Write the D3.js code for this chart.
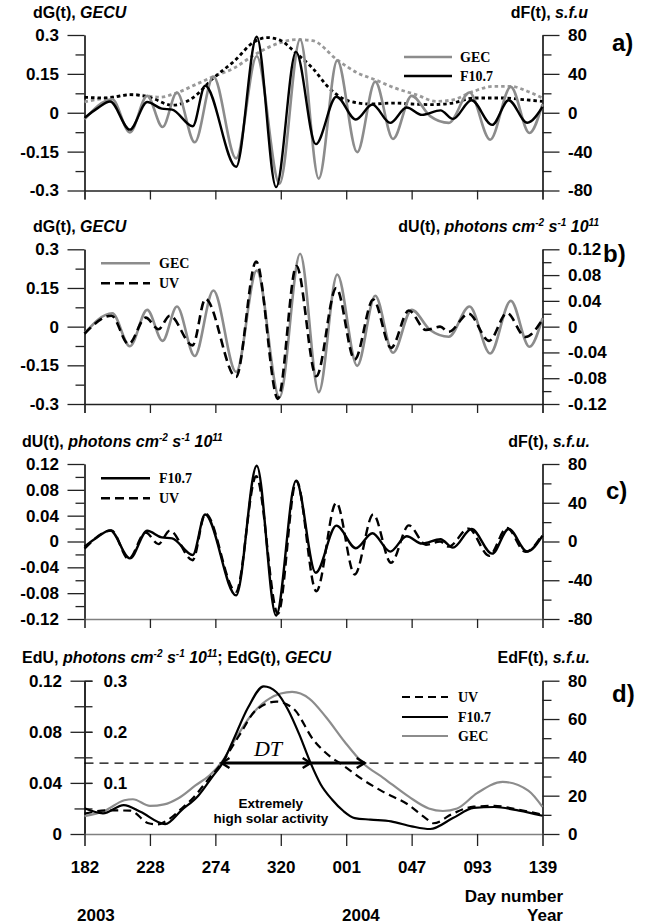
<!DOCTYPE html>
<html>
<head>
<meta charset="utf-8">
<script src="https://cdn.jsdelivr.net/npm/d3@7"></script>
<style>
  body { margin: 0; background: #fff; }
  svg { display: block; font-family: "Liberation Sans", Arial, sans-serif; }
  .axis path, .axis line { stroke: #222; stroke-width: 1.3; }
  .axis text { font: bold 17px "Liberation Sans", Arial, sans-serif; fill: #000; }
  .axis.soft path { stroke: #808080; }
  .title { font: bold 16px "Liberation Sans", Arial, sans-serif; fill: #000; }
  .leg { font: bold 14px "Liberation Serif", "Times New Roman", serif; fill: #000; }
  .tag { font: bold 24px "Liberation Sans", Arial, sans-serif; fill: #000; }
</style>
</head>
<body>
<div id="chart"></div>
<script>
// day index: 0 = day 182 of 2003, 184 = day 001 of 2004
const DAY_TICKS = [0, 46, 92, 138, 184, 230, 276, 322];
const DAY_LABELS = ['182', '228', '274', '320', '001', '047', '093', '139'];

// dG(t), GECU
const GEC_DAY = [0, 19.5, 31.9, 44.1, 54.9, 65, 77.5, 90.6, 106.6, 121.1, 137.1, 151.6, 164.7, 177.7, 191.7, 204.4, 216.9, 230, 243, 256.1, 270.7, 285.2, 299.7, 312.8, 322];
const GEC_VAL = [-0.026, 0.052, -0.076, 0.065, -0.055, 0.078, -0.114, 0.14, -0.176, 0.218, -0.274, 0.283, -0.254, 0.202, -0.152, 0.12, -0.101, 0.065, -0.013, -0.039, 0.078, -0.104, 0.1, -0.078, 0.033];

// dF(t), s.f.u.
const F107_DAY = [0, 9.5, 18, 31.9, 44.1, 54.3, 61.6, 76.1, 84.8, 106.6, 121.1, 134.7, 148.7, 162.6, 177.1, 190.8, 202.4, 214.9, 226.5, 237.3, 250.3, 259, 272.1, 286.6, 298.2, 311.3, 322];
const F107_VAL = [-5.3, 5, 11.5, -17.4, 11.1, 4.2, 3.2, -13.9, 27.8, -55.6, 78.2, -76.5, 62.6, -32.3, 16.4, -6.9, 8.5, -10.4, 5.4, -2.2, 2.4, -6.3, 12.9, -12.5, 12.9, -10.3, 6];

// dU(t), photons cm-2 s-1 10^11
const UV_DAY = [0, 19, 31, 43, 52, 60, 76, 85, 106.5, 120.7, 136, 149, 163, 177, 190, 203, 215.5, 228, 240, 250, 256, 270, 284.5, 297, 310, 322];
const UV_VAL = [-0.011, 0.017, -0.027, 0.014, -0.004, 0.017, -0.029, 0.043, -0.078, 0.101, -0.112, 0.094, -0.077, 0.06, -0.051, 0.042, -0.033, 0.025, -0.005, 0.0, -0.008, 0.02, -0.022, 0.021, -0.016, 0.011];

// envelopes shown dotted in panel a
const F_ENV_DAY = [0, 15, 32.5, 47, 61.6, 76, 90.6, 105, 119.6, 128.4, 137, 148.7, 160.3, 172, 186.4, 201, 218.4, 230, 244.5, 259, 273.6, 294, 308.4, 322];
const F_ENV_VAL = [15.9, 15.2, 18.6, 15.2, 7.7, 15.2, 35.7, 52.8, 73.3, 77.4, 75, 61.4, 46, 25.4, 11.8, 9, 10, 9, 8.4, 10, 15.2, 15.2, 13.5, 11.8];
const G_ENV_DAY = [0, 15, 35.4, 52.9, 64.5, 79, 90.6, 105, 119.6, 137, 148.7, 160.3, 177.7, 192.2, 204, 218.4, 233, 247.4, 259, 273.6, 288, 299.7, 311.3, 322];
const G_ENV_VAL = [0.042, 0.057, 0.07, 0.06, 0.076, 0.111, 0.14, 0.172, 0.224, 0.269, 0.282, 0.278, 0.204, 0.153, 0.128, 0.095, 0.07, 0.044, 0.05, 0.083, 0.102, 0.102, 0.083, 0.057];

// panel d
const EDF_DAY = [0, 13, 27.6, 39.3, 56.7, 68.3, 80, 90, 97, 104, 115, 126, 135, 143, 151, 159, 166, 174, 182, 190, 201, 215.5, 230, 243, 259, 273.6, 288, 305.5, 322];
const EDF_VAL = [13.4, 10.8, 15.1, 11.6, 5.2, 12.5, 20, 30, 37, 48, 66, 77, 74, 65, 52, 37, 26, 18, 12, 8.3, 7.5, 6.6, 4, 2.6, 8.3, 13.6, 14.1, 12.2, 9.5];
const EDU_DAY = [0, 16, 32, 45, 51, 58.6, 68.3, 77, 85.7, 96.3, 109, 120.6, 135, 147, 161, 172.8, 181.5, 196, 210, 228, 240, 245.4, 259, 273.6, 288, 305.5, 322];
const EDU_VAL = [0.016, 0.0185, 0.0183, 0.0084, 0.0075, 0.011, 0.02, 0.029, 0.041, 0.0553, 0.0775, 0.097, 0.1036, 0.098, 0.0736, 0.0605, 0.054, 0.0423, 0.033, 0.0227, 0.0123, 0.0084, 0.016, 0.0214, 0.022, 0.019, 0.015];
const EDG_DAY = [0, 14, 28, 34, 46, 56, 66, 78, 88, 96.3, 107, 116, 130, 146, 158, 170, 183, 196, 210, 228, 242, 252, 262, 276, 294, 312, 322];
const EDG_VAL = [0.035, 0.045, 0.066, 0.068, 0.055, 0.058, 0.07, 0.095, 0.115, 0.14, 0.19, 0.228, 0.265, 0.278, 0.265, 0.228, 0.18, 0.138, 0.11, 0.073, 0.05, 0.045, 0.05, 0.08, 0.102, 0.085, 0.053];

const THRESHOLD_F = 37;
const DT_DAYS = [96.3, 159, 197];

// tick values
const G_MAJOR = [-0.3, -0.15, 0, 0.15, 0.3], G_MINOR = [-0.225, -0.075, 0.075, 0.225];
const F_MAJOR = [-80, -40, 0, 40, 80], F_MINOR = [-60, -20, 20, 60];
const U_MAJOR = [-0.12, -0.08, -0.04, 0, 0.04, 0.08, 0.12], U_MINOR = [-0.1, -0.06, -0.02, 0.02, 0.06, 0.1];
const EU_MAJOR = [0, 0.04, 0.08, 0.12], EU_MINOR = [0.02, 0.06, 0.1];
const EG_MAJOR = [0.1, 0.2, 0.3];
const EF_MAJOR = [0, 20, 40, 60, 80], EF_MINOR = [10, 30, 50, 70];

const GREY = '#8c8c8c';
const W = 646, H = 924, X0 = 84.5, X1 = 542.5;

const svg = d3.select('#chart').append('svg').attr('width', W).attr('height', H);
const x = d3.scaleLinear().domain([0, 322]).range([X0, X1]);

function yAxis(scale, side, xPos, major, minor, big = 17, small = 9) {
  const make = side === 'left' ? d3.axisLeft : d3.axisRight;
  svg.append('g').attr('class', 'axis').attr('transform', `translate(${xPos},0)`)
    .call(make(scale).tickValues(minor).tickSize(small).tickSizeOuter(0).tickFormat(''));
  svg.append('g').attr('class', 'axis').attr('transform', `translate(${xPos},0)`)
    .call(make(scale).tickValues(major).tickSize(big).tickSizeOuter(0).tickPadding(8.5).tickFormat(d => String(d)));
}

function xAxis(bottom, labels, soft) {
  const ax = d3.axisBottom(x).tickValues(DAY_TICKS).tickSizeOuter(0);
  if (labels) ax.tickSize(12).tickPadding(15).tickFormat((d, i) => DAY_LABELS[i]);
  else ax.tickSize(9).tickFormat('');
  svg.append('g').attr('class', soft ? 'axis soft' : 'axis')
    .attr('transform', `translate(0,${bottom})`).call(ax);
}

function curve(days, vals, y, color, width, dash) {
  const line = d3.line().x(d => x(d[0])).y(d => y(d[1])).curve(d3.curveMonotoneX);
  svg.append('path').datum(d3.zip(days, vals))
    .attr('fill', 'none').attr('stroke', color).attr('stroke-width', width)
    .attr('stroke-dasharray', dash || null).attr('d', line);
}

function rich(xp, yp, anchor, parts) {
  const t = svg.append('text').attr('class', 'title').attr('x', xp).attr('y', yp).attr('text-anchor', anchor);
  let up = false;
  parts.forEach(([s, k]) => {
    const sp = t.append('tspan').text(s);
    if (k.includes('i')) sp.attr('font-style', 'italic');
    if (k.includes('s')) { sp.attr('font-size', 10).attr('dy', -6); up = true; }
    else if (up) { sp.attr('dy', 6); up = false; }
  });
}

function legend(x1, x2, tx, items) {
  items.forEach(it => {
    svg.append('line').attr('x1', x1).attr('x2', x2).attr('y1', it.y).attr('y2', it.y)
      .attr('stroke', it.color).attr('stroke-width', it.w).attr('stroke-dasharray', it.dash || null);
    svg.append('text').attr('class', 'leg').attr('x', tx).attr('y', it.y + 5).text(it.name);
  });
}

const PHOTONS = [['photons cm', 'i'], ['-2', 'is'], [' s', 'i'], ['-1', 'is'], [' 10', 'i'], ['11', 'is']];

// ---- panel a
{
  const top = 35, bottom = 190.5;
  const yG = d3.scaleLinear().domain([-0.3, 0.3]).range([bottom, top]);
  const yF = d3.scaleLinear().domain([-80, 80]).range([bottom, top]);
  yAxis(yG, 'left', X0, G_MAJOR, G_MINOR);
  yAxis(yF, 'right', X1, F_MAJOR, F_MINOR);
  xAxis(bottom, false);
  curve(G_ENV_DAY, G_ENV_VAL, yG, '#999', 2.8, '3.5,3');
  curve(F_ENV_DAY, F_ENV_VAL, yF, '#000', 2.8, '3.5,3');
  curve(GEC_DAY, GEC_VAL, yG, GREY, 2.6);
  curve(F107_DAY, F107_VAL, yF, '#000', 2.4);
  rich(33, 18, 'start', [['dG(t), ', ''], ['GECU', 'i']]);
  rich(588, 18, 'end', [['dF(t), ', ''], ['s.f.u', 'i']]);
  legend(404, 452, 460, [
    { name: 'GEC', y: 57, color: GREY, w: 2.6 },
    { name: 'F10.7', y: 76, color: '#000', w: 2.4 }
  ]);
  svg.append('text').attr('class', 'tag').attr('x', 612).attr('y', 51).text('a)');
}

// ---- panel b
{
  const top = 249.3, bottom = 404;
  const yG = d3.scaleLinear().domain([-0.3, 0.3]).range([bottom, top]);
  const yU = d3.scaleLinear().domain([-0.12, 0.12]).range([bottom, top]);
  yAxis(yG, 'left', X0, G_MAJOR, G_MINOR);
  yAxis(yU, 'right', X1, U_MAJOR, U_MINOR);
  xAxis(bottom, false);
  curve(GEC_DAY, GEC_VAL, yG, GREY, 2.6);
  curve(UV_DAY, UV_VAL, yU, '#000', 2.6, '9,5');
  rich(33, 232, 'start', [['dG(t), ', ''], ['GECU', 'i']]);
  rich(599, 232, 'end', [['dU(t), ', ''], ...PHOTONS]);
  legend(101, 150, 159, [
    { name: 'GEC', y: 263.3, color: GREY, w: 2.6 },
    { name: 'UV', y: 283.3, color: '#000', w: 2.6, dash: '9,5' }
  ]);
  svg.append('text').attr('class', 'tag').attr('x', 603).attr('y', 262).text('b)');
}

// ---- panel c
{
  const top = 464, bottom = 619;
  const yU = d3.scaleLinear().domain([-0.12, 0.12]).range([bottom, top]);
  const yF = d3.scaleLinear().domain([-80, 80]).range([bottom, top]);
  yAxis(yU, 'left', X0, U_MAJOR, U_MINOR);
  yAxis(yF, 'right', X1, F_MAJOR, F_MINOR);
  xAxis(bottom, false, true);
  curve(F107_DAY, F107_VAL, yF, '#000', 2.4);
  curve(UV_DAY, UV_VAL, yU, '#000', 2.4, '9,5');
  rich(22, 447, 'start', [['dU(t), ', ''], ...PHOTONS]);
  rich(590, 447, 'end', [['dF(t), ', ''], ['s.f.u.', 'i']]);
  legend(101, 150, 159, [
    { name: 'F10.7', y: 478.3, color: '#000', w: 2.4 },
    { name: 'UV', y: 498.3, color: '#000', w: 2.4, dash: '9,5' }
  ]);
  svg.append('text').attr('class', 'tag').attr('x', 606).attr('y', 499).text('c)');
}

// ---- panel d
{
  const top = 680.7, bottom = 834;
  const yU = d3.scaleLinear().domain([0, 0.12]).range([bottom, top]);
  const yG = d3.scaleLinear().domain([0, 0.3]).range([bottom, top]);
  const yF = d3.scaleLinear().domain([0, 80]).range([bottom, top]);

  // left axis: ticks cross the line, two label sets
  yAxis(yU, 'left', X0, EU_MAJOR, EU_MINOR, 14, 10);
  svg.append('g').attr('class', 'axis').attr('transform', `translate(${X0},0)`)
    .call(d3.axisRight(yU).tickValues(EU_MINOR.concat(EU_MAJOR.slice(1))).tickSize(8).tickSizeOuter(0).tickFormat(''));
  svg.append('g').attr('class', 'axis').attr('transform', `translate(${X0},0)`)
    .call(d3.axisRight(yG).tickValues(EG_MAJOR).tickSize(8).tickSizeOuter(0).tickPadding(11).tickFormat(d => String(d)))
    .call(g => g.select('.domain').remove());
  yAxis(yF, 'right', X1, EF_MAJOR, EF_MINOR);
  xAxis(bottom, true, true);

  const yT = yF(THRESHOLD_F);
  svg.append('line').attr('x1', X0).attr('x2', X1).attr('y1', yT).attr('y2', yT)
    .attr('stroke', '#000').attr('stroke-width', 1.4).attr('stroke-dasharray', '9,6');

  curve(EDG_DAY, EDG_VAL, yG, GREY, 2.2);
  curve(EDU_DAY, EDU_VAL, yU, '#000', 2.2, '8,5');
  curve(EDF_DAY, EDF_VAL, yF, '#000', 2.2);

  // DT arrow
  const [a0, a1, a2] = DT_DAYS.map(x);
  svg.append('line').attr('x1', a0).attr('x2', a2).attr('y1', yT).attr('y2', yT)
    .attr('stroke', '#000').attr('stroke-width', 3);
  const head = (px, dir) => svg.append('path')
    .attr('d', `M${px - dir * 8},${yT - 5} L${px},${yT} L${px - dir * 8},${yT + 5}`)
    .attr('fill', 'none').attr('stroke', '#000').attr('stroke-width', 2.4);
  head(a0, -1); head(a1, 1); head(a2, 1);

  svg.append('text').attr('x', x(129)).attr('y', 756).attr('text-anchor', 'middle')
    .attr('font-family', '"Liberation Serif", "Times New Roman", serif').attr('font-style', 'italic')
    .attr('font-size', 22).text('DT');
  svg.append('text').attr('x', x(131)).attr('y', 808).attr('text-anchor', 'middle')
    .attr('font-weight', 'bold').attr('font-size', 13.5).text('Extremely');
  svg.append('text').attr('x', x(131)).attr('y', 823).attr('text-anchor', 'middle')
    .attr('font-weight', 'bold').attr('font-size', 13.5).text('high solar activity');

  rich(22, 663, 'start', [['EdU, ', ''], ...PHOTONS, ['; EdG(t), ', ''], ['GECU', 'i']]);
  rich(590, 663, 'end', [['EdF(t), ', ''], ['s.f.u.', 'i']]);
  legend(402, 448, 458, [
    { name: 'UV', y: 697, color: '#000', w: 2.2, dash: '8,5' },
    { name: 'F10.7', y: 717, color: '#000', w: 2.2 },
    { name: 'GEC', y: 736, color: GREY, w: 2.2 }
  ]);
  svg.append('text').attr('class', 'tag').attr('x', 612).attr('y', 702).text('d)');

  const lab = svg.append('g').attr('class', 'title').style('font-size', '17px');
  lab.append('text').attr('x', 563).attr('y', 902).attr('text-anchor', 'end').text('Day number');
  lab.append('text').attr('x', 563).attr('y', 921).attr('text-anchor', 'end').text('Year');
  lab.append('text').attr('x', 77).attr('y', 921).text('2003');
  lab.append('text').attr('x', 342).attr('y', 921).text('2004');
}
</script>
</body>
</html>
